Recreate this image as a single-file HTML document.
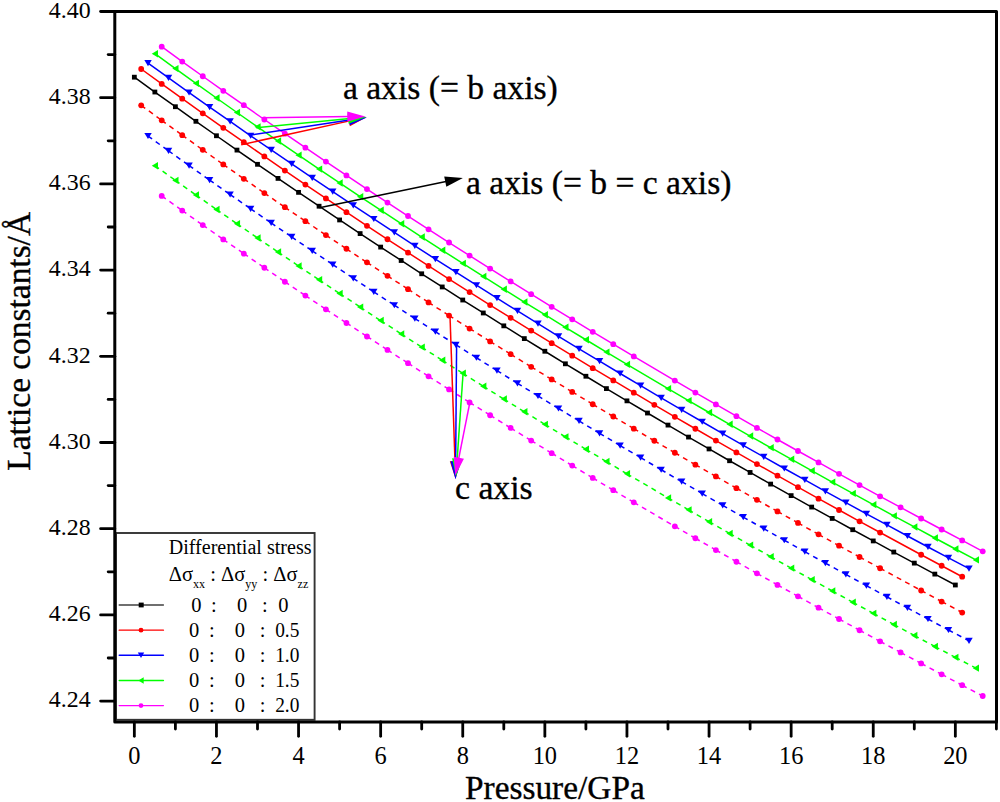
<!DOCTYPE html>
<html><head><meta charset="utf-8"><style>
html,body{margin:0;padding:0;background:#fff;}
svg{display:block;}
text{font-family:"Liberation Serif",serif;fill:#000;}
.big{stroke:#000;stroke-width:0.35px;}
</style></head><body>
<svg width="1000" height="802" viewBox="0 0 1000 802">
<path d="M134.35,77.18 L154.88,92.02 L175.40,106.72 L195.92,121.31 L216.45,135.76 L236.97,150.09 L257.50,164.31 L278.02,178.40 L298.55,192.37 L319.07,206.22 L339.60,219.96 L360.12,233.58 L380.65,247.09 L401.17,260.49 L421.70,273.77 L442.23,286.95 L462.75,300.02 L483.27,312.98 L503.80,325.84 L524.32,338.59 L544.85,351.25 L565.38,363.80 L585.90,376.25 L606.42,388.60 L626.95,400.86 L647.48,413.02 L668.00,425.09 L688.52,437.07 L709.05,448.95 L729.57,460.75 L750.10,472.46 L770.62,484.08 L791.15,495.61 L811.67,507.07 L832.20,518.44 L852.73,529.72 L873.25,540.93 L893.77,552.06 L914.30,563.12 L934.82,574.10 L955.35,585.00" fill="none" stroke="#000" stroke-width="1.5" stroke-linejoin="round"/>
<g><rect x="131.95" y="74.78" width="4.8" height="4.8" fill="#000"/><rect x="152.47" y="89.62" width="4.8" height="4.8" fill="#000"/><rect x="173.00" y="104.32" width="4.8" height="4.8" fill="#000"/><rect x="193.52" y="118.91" width="4.8" height="4.8" fill="#000"/><rect x="214.05" y="133.36" width="4.8" height="4.8" fill="#000"/><rect x="234.57" y="147.69" width="4.8" height="4.8" fill="#000"/><rect x="255.10" y="161.91" width="4.8" height="4.8" fill="#000"/><rect x="275.62" y="176.00" width="4.8" height="4.8" fill="#000"/><rect x="296.15" y="189.97" width="4.8" height="4.8" fill="#000"/><rect x="316.68" y="203.82" width="4.8" height="4.8" fill="#000"/><rect x="337.20" y="217.56" width="4.8" height="4.8" fill="#000"/><rect x="357.73" y="231.18" width="4.8" height="4.8" fill="#000"/><rect x="378.25" y="244.69" width="4.8" height="4.8" fill="#000"/><rect x="398.77" y="258.09" width="4.8" height="4.8" fill="#000"/><rect x="419.30" y="271.37" width="4.8" height="4.8" fill="#000"/><rect x="439.83" y="284.55" width="4.8" height="4.8" fill="#000"/><rect x="460.35" y="297.62" width="4.8" height="4.8" fill="#000"/><rect x="480.88" y="310.58" width="4.8" height="4.8" fill="#000"/><rect x="501.40" y="323.44" width="4.8" height="4.8" fill="#000"/><rect x="521.92" y="336.19" width="4.8" height="4.8" fill="#000"/><rect x="542.45" y="348.85" width="4.8" height="4.8" fill="#000"/><rect x="562.98" y="361.40" width="4.8" height="4.8" fill="#000"/><rect x="583.50" y="373.85" width="4.8" height="4.8" fill="#000"/><rect x="604.02" y="386.20" width="4.8" height="4.8" fill="#000"/><rect x="624.55" y="398.46" width="4.8" height="4.8" fill="#000"/><rect x="645.08" y="410.62" width="4.8" height="4.8" fill="#000"/><rect x="665.60" y="422.69" width="4.8" height="4.8" fill="#000"/><rect x="686.12" y="434.67" width="4.8" height="4.8" fill="#000"/><rect x="706.65" y="446.55" width="4.8" height="4.8" fill="#000"/><rect x="727.17" y="458.35" width="4.8" height="4.8" fill="#000"/><rect x="747.70" y="470.06" width="4.8" height="4.8" fill="#000"/><rect x="768.23" y="481.68" width="4.8" height="4.8" fill="#000"/><rect x="788.75" y="493.21" width="4.8" height="4.8" fill="#000"/><rect x="809.27" y="504.67" width="4.8" height="4.8" fill="#000"/><rect x="829.80" y="516.04" width="4.8" height="4.8" fill="#000"/><rect x="850.33" y="527.32" width="4.8" height="4.8" fill="#000"/><rect x="870.85" y="538.53" width="4.8" height="4.8" fill="#000"/><rect x="891.38" y="549.66" width="4.8" height="4.8" fill="#000"/><rect x="911.90" y="560.72" width="4.8" height="4.8" fill="#000"/><rect x="932.42" y="571.70" width="4.8" height="4.8" fill="#000"/><rect x="952.95" y="582.60" width="4.8" height="4.8" fill="#000"/></g>
<path d="M141.19,69.01 L161.72,83.93 L182.24,98.70 L202.77,113.34 L223.29,127.85 L243.82,142.22 L264.34,156.46 L284.87,170.57 L305.39,184.56 L325.92,198.42 L346.44,212.16 L366.97,225.78 L387.49,239.27 L408.02,252.66 L428.54,265.92 L449.07,279.07 L469.59,292.11 L490.12,305.05 L510.64,317.87 L531.17,330.59 L551.69,343.20 L572.22,355.72 L592.74,368.13 L613.27,380.44 L633.79,392.66 L654.32,404.79 L674.84,416.82 L695.37,428.77 L715.89,440.62 L736.42,452.39 L756.94,464.08 L777.47,475.68 L797.99,487.20 L818.52,498.65 L839.04,510.01 L859.57,521.31 L880.09,532.53 L921.14,554.75 L941.67,565.77 L962.19,576.72" fill="none" stroke="#ff0000" stroke-width="1.5" stroke-linejoin="round"/>
<g><circle cx="141.19" cy="69.01" r="2.9" fill="#ff0000"/><circle cx="161.72" cy="83.93" r="2.9" fill="#ff0000"/><circle cx="182.24" cy="98.70" r="2.9" fill="#ff0000"/><circle cx="202.77" cy="113.34" r="2.9" fill="#ff0000"/><circle cx="223.29" cy="127.85" r="2.9" fill="#ff0000"/><circle cx="243.82" cy="142.22" r="2.9" fill="#ff0000"/><circle cx="264.34" cy="156.46" r="2.9" fill="#ff0000"/><circle cx="284.87" cy="170.57" r="2.9" fill="#ff0000"/><circle cx="305.39" cy="184.56" r="2.9" fill="#ff0000"/><circle cx="325.92" cy="198.42" r="2.9" fill="#ff0000"/><circle cx="346.44" cy="212.16" r="2.9" fill="#ff0000"/><circle cx="366.97" cy="225.78" r="2.9" fill="#ff0000"/><circle cx="387.49" cy="239.27" r="2.9" fill="#ff0000"/><circle cx="408.02" cy="252.66" r="2.9" fill="#ff0000"/><circle cx="428.54" cy="265.92" r="2.9" fill="#ff0000"/><circle cx="449.07" cy="279.07" r="2.9" fill="#ff0000"/><circle cx="469.59" cy="292.11" r="2.9" fill="#ff0000"/><circle cx="490.12" cy="305.05" r="2.9" fill="#ff0000"/><circle cx="510.64" cy="317.87" r="2.9" fill="#ff0000"/><circle cx="531.17" cy="330.59" r="2.9" fill="#ff0000"/><circle cx="551.69" cy="343.20" r="2.9" fill="#ff0000"/><circle cx="572.22" cy="355.72" r="2.9" fill="#ff0000"/><circle cx="592.74" cy="368.13" r="2.9" fill="#ff0000"/><circle cx="613.27" cy="380.44" r="2.9" fill="#ff0000"/><circle cx="633.79" cy="392.66" r="2.9" fill="#ff0000"/><circle cx="654.32" cy="404.79" r="2.9" fill="#ff0000"/><circle cx="674.84" cy="416.82" r="2.9" fill="#ff0000"/><circle cx="695.37" cy="428.77" r="2.9" fill="#ff0000"/><circle cx="715.89" cy="440.62" r="2.9" fill="#ff0000"/><circle cx="736.42" cy="452.39" r="2.9" fill="#ff0000"/><circle cx="756.94" cy="464.08" r="2.9" fill="#ff0000"/><circle cx="777.47" cy="475.68" r="2.9" fill="#ff0000"/><circle cx="797.99" cy="487.20" r="2.9" fill="#ff0000"/><circle cx="818.52" cy="498.65" r="2.9" fill="#ff0000"/><circle cx="839.04" cy="510.01" r="2.9" fill="#ff0000"/><circle cx="859.57" cy="521.31" r="2.9" fill="#ff0000"/><circle cx="880.09" cy="532.53" r="2.9" fill="#ff0000"/><circle cx="921.14" cy="554.75" r="2.9" fill="#ff0000"/><circle cx="941.67" cy="565.77" r="2.9" fill="#ff0000"/><circle cx="962.19" cy="576.72" r="2.9" fill="#ff0000"/></g>
<path d="M148.03,63.08 L168.56,77.86 L189.08,92.52 L209.61,107.06 L230.13,121.47 L250.66,135.76 L271.18,149.92 L291.71,163.97 L312.23,177.90 L332.76,191.71 L353.28,205.41 L373.81,218.99 L394.33,232.46 L414.86,245.82 L435.38,259.06 L455.91,272.20 L476.43,285.23 L496.96,298.15 L517.48,310.96 L538.01,323.67 L558.53,336.28 L579.06,348.78 L599.58,361.19 L620.11,373.49 L640.63,385.70 L661.16,397.81 L681.68,409.82 L702.21,421.74 L722.73,433.56 L743.26,445.30 L763.78,456.94 L784.31,468.49 L804.83,479.96 L825.36,491.34 L845.88,502.63 L866.41,513.84 L886.93,524.96 L907.46,536.01 L927.98,546.97 L948.51,557.85 L969.03,568.66" fill="none" stroke="#0000ff" stroke-width="1.5" stroke-linejoin="round"/>
<g><path d="M144.33,59.98H151.73L148.03,66.18Z" fill="#0000ff"/><path d="M164.86,74.76H172.26L168.56,80.96Z" fill="#0000ff"/><path d="M185.38,89.42H192.78L189.08,95.62Z" fill="#0000ff"/><path d="M205.91,103.96H213.31L209.61,110.16Z" fill="#0000ff"/><path d="M226.43,118.37H233.83L230.13,124.57Z" fill="#0000ff"/><path d="M246.96,132.66H254.36L250.66,138.86Z" fill="#0000ff"/><path d="M267.48,146.82H274.88L271.18,153.02Z" fill="#0000ff"/><path d="M288.01,160.87H295.41L291.71,167.07Z" fill="#0000ff"/><path d="M308.53,174.80H315.93L312.23,181.00Z" fill="#0000ff"/><path d="M329.06,188.61H336.46L332.76,194.81Z" fill="#0000ff"/><path d="M349.58,202.31H356.98L353.28,208.51Z" fill="#0000ff"/><path d="M370.11,215.89H377.51L373.81,222.09Z" fill="#0000ff"/><path d="M390.63,229.36H398.03L394.33,235.56Z" fill="#0000ff"/><path d="M411.16,242.72H418.56L414.86,248.92Z" fill="#0000ff"/><path d="M431.68,255.96H439.08L435.38,262.16Z" fill="#0000ff"/><path d="M452.21,269.10H459.61L455.91,275.30Z" fill="#0000ff"/><path d="M472.73,282.13H480.13L476.43,288.33Z" fill="#0000ff"/><path d="M493.26,295.05H500.66L496.96,301.25Z" fill="#0000ff"/><path d="M513.78,307.86H521.18L517.48,314.06Z" fill="#0000ff"/><path d="M534.31,320.57H541.71L538.01,326.77Z" fill="#0000ff"/><path d="M554.83,333.18H562.23L558.53,339.38Z" fill="#0000ff"/><path d="M575.36,345.68H582.76L579.06,351.88Z" fill="#0000ff"/><path d="M595.88,358.09H603.28L599.58,364.29Z" fill="#0000ff"/><path d="M616.41,370.39H623.81L620.11,376.59Z" fill="#0000ff"/><path d="M636.93,382.60H644.33L640.63,388.80Z" fill="#0000ff"/><path d="M657.46,394.71H664.86L661.16,400.91Z" fill="#0000ff"/><path d="M677.98,406.72H685.38L681.68,412.92Z" fill="#0000ff"/><path d="M698.51,418.64H705.91L702.21,424.84Z" fill="#0000ff"/><path d="M719.03,430.46H726.43L722.73,436.66Z" fill="#0000ff"/><path d="M739.56,442.20H746.96L743.26,448.40Z" fill="#0000ff"/><path d="M760.08,453.84H767.48L763.78,460.04Z" fill="#0000ff"/><path d="M780.61,465.39H788.01L784.31,471.59Z" fill="#0000ff"/><path d="M801.13,476.86H808.53L804.83,483.06Z" fill="#0000ff"/><path d="M821.66,488.24H829.06L825.36,494.44Z" fill="#0000ff"/><path d="M842.18,499.53H849.58L845.88,505.73Z" fill="#0000ff"/><path d="M862.71,510.74H870.11L866.41,516.94Z" fill="#0000ff"/><path d="M883.23,521.86H890.63L886.93,528.06Z" fill="#0000ff"/><path d="M903.76,532.91H911.16L907.46,539.11Z" fill="#0000ff"/><path d="M924.28,543.87H931.68L927.98,550.07Z" fill="#0000ff"/><path d="M944.81,554.75H952.21L948.51,560.95Z" fill="#0000ff"/><path d="M965.33,565.56H972.73L969.03,571.76Z" fill="#0000ff"/></g>
<path d="M154.88,53.69 L175.40,68.60 L195.92,83.37 L216.45,98.00 L236.97,112.49 L257.50,126.85 L278.02,141.07 L298.55,155.16 L319.07,169.12 L339.60,182.95 L360.12,196.66 L380.65,210.24 L401.17,223.71 L421.70,237.05 L442.23,250.28 L462.75,263.39 L483.27,276.38 L503.80,289.27 L524.32,302.05 L544.85,314.72 L565.38,327.29 L585.90,339.75 L606.42,352.12 L626.95,364.38 L668.00,388.63 L688.52,400.61 L709.05,412.50 L729.57,424.31 L750.10,436.03 L770.62,447.67 L791.15,459.22 L811.67,470.70 L832.20,482.10 L852.73,493.42 L873.25,504.67 L893.77,515.85 L914.30,526.96 L934.82,538.01 L955.35,548.99 L975.88,559.90" fill="none" stroke="#00ff00" stroke-width="1.5" stroke-linejoin="round"/>
<g><path d="M157.97,49.99V57.39L151.78,53.69Z" fill="#00ff00"/><path d="M178.50,64.90V72.30L172.30,68.60Z" fill="#00ff00"/><path d="M199.02,79.67V87.07L192.82,83.37Z" fill="#00ff00"/><path d="M219.55,94.30V101.70L213.35,98.00Z" fill="#00ff00"/><path d="M240.07,108.79V116.19L233.88,112.49Z" fill="#00ff00"/><path d="M260.60,123.15V130.55L254.40,126.85Z" fill="#00ff00"/><path d="M281.12,137.37V144.77L274.92,141.07Z" fill="#00ff00"/><path d="M301.65,151.46V158.86L295.45,155.16Z" fill="#00ff00"/><path d="M322.18,165.42V172.82L315.97,169.12Z" fill="#00ff00"/><path d="M342.70,179.25V186.65L336.50,182.95Z" fill="#00ff00"/><path d="M363.23,192.96V200.36L357.02,196.66Z" fill="#00ff00"/><path d="M383.75,206.54V213.94L377.55,210.24Z" fill="#00ff00"/><path d="M404.27,220.01V227.41L398.07,223.71Z" fill="#00ff00"/><path d="M424.80,233.35V240.75L418.60,237.05Z" fill="#00ff00"/><path d="M445.33,246.58V253.98L439.12,250.28Z" fill="#00ff00"/><path d="M465.85,259.69V267.09L459.65,263.39Z" fill="#00ff00"/><path d="M486.38,272.68V280.08L480.17,276.38Z" fill="#00ff00"/><path d="M506.90,285.57V292.97L500.70,289.27Z" fill="#00ff00"/><path d="M527.42,298.35V305.75L521.22,302.05Z" fill="#00ff00"/><path d="M547.95,311.02V318.42L541.75,314.72Z" fill="#00ff00"/><path d="M568.48,323.59V330.99L562.27,327.29Z" fill="#00ff00"/><path d="M589.00,336.05V343.45L582.80,339.75Z" fill="#00ff00"/><path d="M609.52,348.42V355.82L603.32,352.12Z" fill="#00ff00"/><path d="M630.05,360.68V368.08L623.85,364.38Z" fill="#00ff00"/><path d="M671.10,384.93V392.33L664.90,388.63Z" fill="#00ff00"/><path d="M691.62,396.91V404.31L685.42,400.61Z" fill="#00ff00"/><path d="M712.15,408.80V416.20L705.95,412.50Z" fill="#00ff00"/><path d="M732.67,420.61V428.01L726.47,424.31Z" fill="#00ff00"/><path d="M753.20,432.33V439.73L747.00,436.03Z" fill="#00ff00"/><path d="M773.73,443.97V451.37L767.52,447.67Z" fill="#00ff00"/><path d="M794.25,455.52V462.92L788.05,459.22Z" fill="#00ff00"/><path d="M814.77,467.00V474.40L808.57,470.70Z" fill="#00ff00"/><path d="M835.30,478.40V485.80L829.10,482.10Z" fill="#00ff00"/><path d="M855.83,489.72V497.12L849.62,493.42Z" fill="#00ff00"/><path d="M876.35,500.97V508.37L870.15,504.67Z" fill="#00ff00"/><path d="M896.88,512.15V519.55L890.67,515.85Z" fill="#00ff00"/><path d="M917.40,523.26V530.66L911.20,526.96Z" fill="#00ff00"/><path d="M937.92,534.31V541.71L931.72,538.01Z" fill="#00ff00"/><path d="M958.45,545.29V552.69L952.25,548.99Z" fill="#00ff00"/><path d="M978.98,556.20V563.60L972.77,559.90Z" fill="#00ff00"/></g>
<path d="M161.72,46.72 L182.24,61.55 L202.77,76.24 L223.29,90.79 L243.82,105.21 L264.34,119.50 L284.87,133.66 L305.39,147.70 L325.92,161.61 L346.44,175.39 L366.97,189.05 L387.49,202.59 L408.02,216.01 L428.54,229.32 L449.07,242.51 L469.59,255.59 L490.12,268.56 L510.64,281.42 L531.17,294.17 L551.69,306.82 L572.22,319.36 L592.74,331.80 L613.27,344.14 L633.79,356.39 L674.84,380.58 L695.37,392.54 L715.89,404.41 L736.42,416.19 L756.94,427.89 L777.47,439.49 L797.99,451.02 L818.52,462.46 L839.04,473.83 L859.57,485.11 L880.09,496.32 L900.62,507.46 L921.14,518.52 L941.67,529.52 L962.19,540.44 L982.72,551.30" fill="none" stroke="#ff00ff" stroke-width="1.5" stroke-linejoin="round"/>
<g><circle cx="161.72" cy="46.72" r="2.9" fill="#ff00ff"/><circle cx="182.24" cy="61.55" r="2.9" fill="#ff00ff"/><circle cx="202.77" cy="76.24" r="2.9" fill="#ff00ff"/><circle cx="223.29" cy="90.79" r="2.9" fill="#ff00ff"/><circle cx="243.82" cy="105.21" r="2.9" fill="#ff00ff"/><circle cx="264.34" cy="119.50" r="2.9" fill="#ff00ff"/><circle cx="284.87" cy="133.66" r="2.9" fill="#ff00ff"/><circle cx="305.39" cy="147.70" r="2.9" fill="#ff00ff"/><circle cx="325.92" cy="161.61" r="2.9" fill="#ff00ff"/><circle cx="346.44" cy="175.39" r="2.9" fill="#ff00ff"/><circle cx="366.97" cy="189.05" r="2.9" fill="#ff00ff"/><circle cx="387.49" cy="202.59" r="2.9" fill="#ff00ff"/><circle cx="408.02" cy="216.01" r="2.9" fill="#ff00ff"/><circle cx="428.54" cy="229.32" r="2.9" fill="#ff00ff"/><circle cx="449.07" cy="242.51" r="2.9" fill="#ff00ff"/><circle cx="469.59" cy="255.59" r="2.9" fill="#ff00ff"/><circle cx="490.12" cy="268.56" r="2.9" fill="#ff00ff"/><circle cx="510.64" cy="281.42" r="2.9" fill="#ff00ff"/><circle cx="531.17" cy="294.17" r="2.9" fill="#ff00ff"/><circle cx="551.69" cy="306.82" r="2.9" fill="#ff00ff"/><circle cx="572.22" cy="319.36" r="2.9" fill="#ff00ff"/><circle cx="592.74" cy="331.80" r="2.9" fill="#ff00ff"/><circle cx="613.27" cy="344.14" r="2.9" fill="#ff00ff"/><circle cx="633.79" cy="356.39" r="2.9" fill="#ff00ff"/><circle cx="674.84" cy="380.58" r="2.9" fill="#ff00ff"/><circle cx="695.37" cy="392.54" r="2.9" fill="#ff00ff"/><circle cx="715.89" cy="404.41" r="2.9" fill="#ff00ff"/><circle cx="736.42" cy="416.19" r="2.9" fill="#ff00ff"/><circle cx="756.94" cy="427.89" r="2.9" fill="#ff00ff"/><circle cx="777.47" cy="439.49" r="2.9" fill="#ff00ff"/><circle cx="797.99" cy="451.02" r="2.9" fill="#ff00ff"/><circle cx="818.52" cy="462.46" r="2.9" fill="#ff00ff"/><circle cx="839.04" cy="473.83" r="2.9" fill="#ff00ff"/><circle cx="859.57" cy="485.11" r="2.9" fill="#ff00ff"/><circle cx="880.09" cy="496.32" r="2.9" fill="#ff00ff"/><circle cx="900.62" cy="507.46" r="2.9" fill="#ff00ff"/><circle cx="921.14" cy="518.52" r="2.9" fill="#ff00ff"/><circle cx="941.67" cy="529.52" r="2.9" fill="#ff00ff"/><circle cx="962.19" cy="540.44" r="2.9" fill="#ff00ff"/><circle cx="982.72" cy="551.30" r="2.9" fill="#ff00ff"/></g>
<g stroke="#ff0000" stroke-width="1.5" stroke-dasharray="5 4.5"><line x1="141.19" y1="105.36" x2="161.72" y2="120.34"/><line x1="161.72" y1="120.34" x2="182.24" y2="135.18"/><line x1="182.24" y1="135.18" x2="202.77" y2="149.87"/><line x1="202.77" y1="149.87" x2="223.29" y2="164.41"/><line x1="223.29" y1="164.41" x2="243.82" y2="178.81"/><line x1="243.82" y1="178.81" x2="264.34" y2="193.07"/><line x1="264.34" y1="193.07" x2="284.87" y2="207.20"/><line x1="284.87" y1="207.20" x2="305.39" y2="221.19"/><line x1="305.39" y1="221.19" x2="325.92" y2="235.04"/><line x1="325.92" y1="235.04" x2="346.44" y2="248.77"/><line x1="346.44" y1="248.77" x2="366.97" y2="262.37"/><line x1="366.97" y1="262.37" x2="387.49" y2="275.84"/><line x1="387.49" y1="275.84" x2="408.02" y2="289.19"/><line x1="408.02" y1="289.19" x2="428.54" y2="302.42"/><line x1="428.54" y1="302.42" x2="449.07" y2="315.54"/><line x1="449.07" y1="315.54" x2="469.59" y2="328.54"/><line x1="469.59" y1="328.54" x2="490.12" y2="341.42"/><line x1="490.12" y1="341.42" x2="510.64" y2="354.20"/><line x1="510.64" y1="354.20" x2="531.17" y2="366.87"/><line x1="531.17" y1="366.87" x2="551.69" y2="379.43"/><line x1="551.69" y1="379.43" x2="572.22" y2="391.90"/><line x1="572.22" y1="391.90" x2="592.74" y2="404.26"/><line x1="592.74" y1="404.26" x2="613.27" y2="416.52"/><line x1="613.27" y1="416.52" x2="633.79" y2="428.69"/><line x1="633.79" y1="428.69" x2="654.32" y2="440.77"/><line x1="654.32" y1="440.77" x2="674.84" y2="452.76"/><line x1="674.84" y1="452.76" x2="695.37" y2="464.66"/><line x1="695.37" y1="464.66" x2="715.89" y2="476.47"/><line x1="715.89" y1="476.47" x2="736.42" y2="488.20"/><line x1="736.42" y1="488.20" x2="756.94" y2="499.85"/><line x1="756.94" y1="499.85" x2="777.47" y2="511.43"/><line x1="777.47" y1="511.43" x2="797.99" y2="522.93"/><line x1="797.99" y1="522.93" x2="818.52" y2="534.36"/><line x1="818.52" y1="534.36" x2="839.04" y2="545.72"/><line x1="839.04" y1="545.72" x2="859.57" y2="557.01"/><line x1="859.57" y1="557.01" x2="880.09" y2="568.23"/><line x1="880.09" y1="568.23" x2="921.14" y2="590.50"/><line x1="921.14" y1="590.50" x2="941.67" y2="601.54"/><line x1="941.67" y1="601.54" x2="962.19" y2="612.53"/></g>
<g><circle cx="141.19" cy="105.36" r="2.9" fill="#ff0000"/><circle cx="161.72" cy="120.34" r="2.9" fill="#ff0000"/><circle cx="182.24" cy="135.18" r="2.9" fill="#ff0000"/><circle cx="202.77" cy="149.87" r="2.9" fill="#ff0000"/><circle cx="223.29" cy="164.41" r="2.9" fill="#ff0000"/><circle cx="243.82" cy="178.81" r="2.9" fill="#ff0000"/><circle cx="264.34" cy="193.07" r="2.9" fill="#ff0000"/><circle cx="284.87" cy="207.20" r="2.9" fill="#ff0000"/><circle cx="305.39" cy="221.19" r="2.9" fill="#ff0000"/><circle cx="325.92" cy="235.04" r="2.9" fill="#ff0000"/><circle cx="346.44" cy="248.77" r="2.9" fill="#ff0000"/><circle cx="366.97" cy="262.37" r="2.9" fill="#ff0000"/><circle cx="387.49" cy="275.84" r="2.9" fill="#ff0000"/><circle cx="408.02" cy="289.19" r="2.9" fill="#ff0000"/><circle cx="428.54" cy="302.42" r="2.9" fill="#ff0000"/><circle cx="449.07" cy="315.54" r="2.9" fill="#ff0000"/><circle cx="469.59" cy="328.54" r="2.9" fill="#ff0000"/><circle cx="490.12" cy="341.42" r="2.9" fill="#ff0000"/><circle cx="510.64" cy="354.20" r="2.9" fill="#ff0000"/><circle cx="531.17" cy="366.87" r="2.9" fill="#ff0000"/><circle cx="551.69" cy="379.43" r="2.9" fill="#ff0000"/><circle cx="572.22" cy="391.90" r="2.9" fill="#ff0000"/><circle cx="592.74" cy="404.26" r="2.9" fill="#ff0000"/><circle cx="613.27" cy="416.52" r="2.9" fill="#ff0000"/><circle cx="633.79" cy="428.69" r="2.9" fill="#ff0000"/><circle cx="654.32" cy="440.77" r="2.9" fill="#ff0000"/><circle cx="674.84" cy="452.76" r="2.9" fill="#ff0000"/><circle cx="695.37" cy="464.66" r="2.9" fill="#ff0000"/><circle cx="715.89" cy="476.47" r="2.9" fill="#ff0000"/><circle cx="736.42" cy="488.20" r="2.9" fill="#ff0000"/><circle cx="756.94" cy="499.85" r="2.9" fill="#ff0000"/><circle cx="777.47" cy="511.43" r="2.9" fill="#ff0000"/><circle cx="797.99" cy="522.93" r="2.9" fill="#ff0000"/><circle cx="818.52" cy="534.36" r="2.9" fill="#ff0000"/><circle cx="839.04" cy="545.72" r="2.9" fill="#ff0000"/><circle cx="859.57" cy="557.01" r="2.9" fill="#ff0000"/><circle cx="880.09" cy="568.23" r="2.9" fill="#ff0000"/><circle cx="921.14" cy="590.50" r="2.9" fill="#ff0000"/><circle cx="941.67" cy="601.54" r="2.9" fill="#ff0000"/><circle cx="962.19" cy="612.53" r="2.9" fill="#ff0000"/></g>
<g stroke="#0000ff" stroke-width="1.5" stroke-dasharray="5 4.5"><line x1="148.03" y1="136.02" x2="168.56" y2="150.85"/><line x1="168.56" y1="150.85" x2="189.08" y2="165.54"/><line x1="189.08" y1="165.54" x2="209.61" y2="180.09"/><line x1="209.61" y1="180.09" x2="230.13" y2="194.51"/><line x1="230.13" y1="194.51" x2="250.66" y2="208.79"/><line x1="250.66" y1="208.79" x2="271.18" y2="222.95"/><line x1="271.18" y1="222.95" x2="291.71" y2="236.97"/><line x1="291.71" y1="236.97" x2="312.23" y2="250.87"/><line x1="312.23" y1="250.87" x2="332.76" y2="264.65"/><line x1="332.76" y1="264.65" x2="353.28" y2="278.30"/><line x1="353.28" y1="278.30" x2="373.81" y2="291.83"/><line x1="373.81" y1="291.83" x2="394.33" y2="305.24"/><line x1="394.33" y1="305.24" x2="414.86" y2="318.54"/><line x1="414.86" y1="318.54" x2="435.38" y2="331.72"/><line x1="435.38" y1="331.72" x2="455.91" y2="344.79"/><line x1="455.91" y1="344.79" x2="476.43" y2="357.74"/><line x1="476.43" y1="357.74" x2="496.96" y2="370.59"/><line x1="496.96" y1="370.59" x2="517.48" y2="383.34"/><line x1="517.48" y1="383.34" x2="538.01" y2="395.98"/><line x1="538.01" y1="395.98" x2="558.53" y2="408.51"/><line x1="558.53" y1="408.51" x2="579.06" y2="420.95"/><line x1="579.06" y1="420.95" x2="599.58" y2="433.29"/><line x1="599.58" y1="433.29" x2="620.11" y2="445.53"/><line x1="620.11" y1="445.53" x2="640.63" y2="457.68"/><line x1="640.63" y1="457.68" x2="661.16" y2="469.73"/><line x1="661.16" y1="469.73" x2="681.68" y2="481.70"/><line x1="681.68" y1="481.70" x2="702.21" y2="493.58"/><line x1="702.21" y1="493.58" x2="722.73" y2="505.37"/><line x1="722.73" y1="505.37" x2="743.26" y2="517.08"/><line x1="743.26" y1="517.08" x2="763.78" y2="528.70"/><line x1="763.78" y1="528.70" x2="784.31" y2="540.25"/><line x1="784.31" y1="540.25" x2="804.83" y2="551.71"/><line x1="804.83" y1="551.71" x2="825.36" y2="563.11"/><line x1="825.36" y1="563.11" x2="845.88" y2="574.42"/><line x1="845.88" y1="574.42" x2="866.41" y2="585.67"/><line x1="866.41" y1="585.67" x2="886.93" y2="596.85"/><line x1="886.93" y1="596.85" x2="907.46" y2="607.95"/><line x1="907.46" y1="607.95" x2="927.98" y2="619.00"/><line x1="927.98" y1="619.00" x2="948.51" y2="629.98"/><line x1="948.51" y1="629.98" x2="969.03" y2="640.89"/></g>
<g><path d="M144.33,132.92H151.73L148.03,139.12Z" fill="#0000ff"/><path d="M164.86,147.75H172.26L168.56,153.95Z" fill="#0000ff"/><path d="M185.38,162.44H192.78L189.08,168.64Z" fill="#0000ff"/><path d="M205.91,176.99H213.31L209.61,183.19Z" fill="#0000ff"/><path d="M226.43,191.41H233.83L230.13,197.61Z" fill="#0000ff"/><path d="M246.96,205.69H254.36L250.66,211.89Z" fill="#0000ff"/><path d="M267.48,219.85H274.88L271.18,226.05Z" fill="#0000ff"/><path d="M288.01,233.87H295.41L291.71,240.07Z" fill="#0000ff"/><path d="M308.53,247.77H315.93L312.23,253.97Z" fill="#0000ff"/><path d="M329.06,261.55H336.46L332.76,267.75Z" fill="#0000ff"/><path d="M349.58,275.20H356.98L353.28,281.40Z" fill="#0000ff"/><path d="M370.11,288.73H377.51L373.81,294.93Z" fill="#0000ff"/><path d="M390.63,302.14H398.03L394.33,308.34Z" fill="#0000ff"/><path d="M411.16,315.44H418.56L414.86,321.64Z" fill="#0000ff"/><path d="M431.68,328.62H439.08L435.38,334.82Z" fill="#0000ff"/><path d="M452.21,341.69H459.61L455.91,347.89Z" fill="#0000ff"/><path d="M472.73,354.64H480.13L476.43,360.84Z" fill="#0000ff"/><path d="M493.26,367.49H500.66L496.96,373.69Z" fill="#0000ff"/><path d="M513.78,380.24H521.18L517.48,386.44Z" fill="#0000ff"/><path d="M534.31,392.88H541.71L538.01,399.08Z" fill="#0000ff"/><path d="M554.83,405.41H562.23L558.53,411.61Z" fill="#0000ff"/><path d="M575.36,417.85H582.76L579.06,424.05Z" fill="#0000ff"/><path d="M595.88,430.19H603.28L599.58,436.39Z" fill="#0000ff"/><path d="M616.41,442.43H623.81L620.11,448.63Z" fill="#0000ff"/><path d="M636.93,454.58H644.33L640.63,460.78Z" fill="#0000ff"/><path d="M657.46,466.63H664.86L661.16,472.83Z" fill="#0000ff"/><path d="M677.98,478.60H685.38L681.68,484.80Z" fill="#0000ff"/><path d="M698.51,490.48H705.91L702.21,496.68Z" fill="#0000ff"/><path d="M719.03,502.27H726.43L722.73,508.47Z" fill="#0000ff"/><path d="M739.56,513.98H746.96L743.26,520.18Z" fill="#0000ff"/><path d="M760.08,525.60H767.48L763.78,531.80Z" fill="#0000ff"/><path d="M780.61,537.15H788.01L784.31,543.35Z" fill="#0000ff"/><path d="M801.13,548.61H808.53L804.83,554.81Z" fill="#0000ff"/><path d="M821.66,560.01H829.06L825.36,566.21Z" fill="#0000ff"/><path d="M842.18,571.32H849.58L845.88,577.52Z" fill="#0000ff"/><path d="M862.71,582.57H870.11L866.41,588.77Z" fill="#0000ff"/><path d="M883.23,593.75H890.63L886.93,599.95Z" fill="#0000ff"/><path d="M903.76,604.85H911.16L907.46,611.05Z" fill="#0000ff"/><path d="M924.28,615.90H931.68L927.98,622.10Z" fill="#0000ff"/><path d="M944.81,626.88H952.21L948.51,633.08Z" fill="#0000ff"/><path d="M965.33,637.79H972.73L969.03,643.99Z" fill="#0000ff"/></g>
<g stroke="#00ff00" stroke-width="1.5" stroke-dasharray="5 4.5"><line x1="154.88" y1="165.69" x2="175.40" y2="180.40"/><line x1="175.40" y1="180.40" x2="195.92" y2="194.98"/><line x1="195.92" y1="194.98" x2="216.45" y2="209.43"/><line x1="216.45" y1="209.43" x2="236.97" y2="223.75"/><line x1="236.97" y1="223.75" x2="257.50" y2="237.94"/><line x1="257.50" y1="237.94" x2="278.02" y2="252.01"/><line x1="278.02" y1="252.01" x2="298.55" y2="265.96"/><line x1="298.55" y1="265.96" x2="319.07" y2="279.79"/><line x1="319.07" y1="279.79" x2="339.60" y2="293.49"/><line x1="339.60" y1="293.49" x2="360.12" y2="307.08"/><line x1="360.12" y1="307.08" x2="380.65" y2="320.56"/><line x1="380.65" y1="320.56" x2="401.17" y2="333.92"/><line x1="401.17" y1="333.92" x2="421.70" y2="347.16"/><line x1="421.70" y1="347.16" x2="442.23" y2="360.30"/><line x1="442.23" y1="360.30" x2="462.75" y2="373.32"/><line x1="462.75" y1="373.32" x2="483.27" y2="386.24"/><line x1="483.27" y1="386.24" x2="503.80" y2="399.05"/><line x1="503.80" y1="399.05" x2="524.32" y2="411.76"/><line x1="524.32" y1="411.76" x2="544.85" y2="424.36"/><line x1="544.85" y1="424.36" x2="565.38" y2="436.86"/><line x1="565.38" y1="436.86" x2="585.90" y2="449.27"/><line x1="585.90" y1="449.27" x2="606.42" y2="461.57"/><line x1="606.42" y1="461.57" x2="626.95" y2="473.78"/><line x1="626.95" y1="473.78" x2="668.00" y2="497.91"/><line x1="668.00" y1="497.91" x2="688.52" y2="509.84"/><line x1="688.52" y1="509.84" x2="709.05" y2="521.68"/><line x1="709.05" y1="521.68" x2="729.57" y2="533.43"/><line x1="729.57" y1="533.43" x2="750.10" y2="545.10"/><line x1="750.10" y1="545.10" x2="770.62" y2="556.67"/><line x1="770.62" y1="556.67" x2="791.15" y2="568.17"/><line x1="791.15" y1="568.17" x2="811.67" y2="579.59"/><line x1="811.67" y1="579.59" x2="832.20" y2="590.92"/><line x1="832.20" y1="590.92" x2="852.73" y2="602.18"/><line x1="852.73" y1="602.18" x2="873.25" y2="613.36"/><line x1="873.25" y1="613.36" x2="893.77" y2="624.46"/><line x1="893.77" y1="624.46" x2="914.30" y2="635.49"/><line x1="914.30" y1="635.49" x2="934.82" y2="646.45"/><line x1="934.82" y1="646.45" x2="955.35" y2="657.34"/><line x1="955.35" y1="657.34" x2="975.88" y2="668.16"/></g>
<g><path d="M157.97,161.99V169.39L151.78,165.69Z" fill="#00ff00"/><path d="M178.50,176.70V184.10L172.30,180.40Z" fill="#00ff00"/><path d="M199.02,191.28V198.68L192.82,194.98Z" fill="#00ff00"/><path d="M219.55,205.73V213.13L213.35,209.43Z" fill="#00ff00"/><path d="M240.07,220.05V227.45L233.88,223.75Z" fill="#00ff00"/><path d="M260.60,234.24V241.64L254.40,237.94Z" fill="#00ff00"/><path d="M281.12,248.31V255.71L274.92,252.01Z" fill="#00ff00"/><path d="M301.65,262.26V269.66L295.45,265.96Z" fill="#00ff00"/><path d="M322.18,276.09V283.49L315.97,279.79Z" fill="#00ff00"/><path d="M342.70,289.79V297.19L336.50,293.49Z" fill="#00ff00"/><path d="M363.23,303.38V310.78L357.02,307.08Z" fill="#00ff00"/><path d="M383.75,316.86V324.26L377.55,320.56Z" fill="#00ff00"/><path d="M404.27,330.22V337.62L398.07,333.92Z" fill="#00ff00"/><path d="M424.80,343.46V350.86L418.60,347.16Z" fill="#00ff00"/><path d="M445.33,356.60V364.00L439.12,360.30Z" fill="#00ff00"/><path d="M465.85,369.62V377.02L459.65,373.32Z" fill="#00ff00"/><path d="M486.38,382.54V389.94L480.17,386.24Z" fill="#00ff00"/><path d="M506.90,395.35V402.75L500.70,399.05Z" fill="#00ff00"/><path d="M527.42,408.06V415.46L521.22,411.76Z" fill="#00ff00"/><path d="M547.95,420.66V428.06L541.75,424.36Z" fill="#00ff00"/><path d="M568.48,433.16V440.56L562.27,436.86Z" fill="#00ff00"/><path d="M589.00,445.57V452.97L582.80,449.27Z" fill="#00ff00"/><path d="M609.52,457.87V465.27L603.32,461.57Z" fill="#00ff00"/><path d="M630.05,470.08V477.48L623.85,473.78Z" fill="#00ff00"/><path d="M671.10,494.21V501.61L664.90,497.91Z" fill="#00ff00"/><path d="M691.62,506.14V513.54L685.42,509.84Z" fill="#00ff00"/><path d="M712.15,517.98V525.38L705.95,521.68Z" fill="#00ff00"/><path d="M732.67,529.73V537.13L726.47,533.43Z" fill="#00ff00"/><path d="M753.20,541.40V548.80L747.00,545.10Z" fill="#00ff00"/><path d="M773.73,552.97V560.37L767.52,556.67Z" fill="#00ff00"/><path d="M794.25,564.47V571.87L788.05,568.17Z" fill="#00ff00"/><path d="M814.77,575.89V583.29L808.57,579.59Z" fill="#00ff00"/><path d="M835.30,587.22V594.62L829.10,590.92Z" fill="#00ff00"/><path d="M855.83,598.48V605.88L849.62,602.18Z" fill="#00ff00"/><path d="M876.35,609.66V617.06L870.15,613.36Z" fill="#00ff00"/><path d="M896.88,620.76V628.16L890.67,624.46Z" fill="#00ff00"/><path d="M917.40,631.79V639.19L911.20,635.49Z" fill="#00ff00"/><path d="M937.92,642.75V650.15L931.72,646.45Z" fill="#00ff00"/><path d="M958.45,653.64V661.04L952.25,657.34Z" fill="#00ff00"/><path d="M978.98,664.46V671.86L972.77,668.16Z" fill="#00ff00"/></g>
<g stroke="#ff00ff" stroke-width="1.5" stroke-dasharray="5 4.5"><line x1="161.72" y1="195.95" x2="182.24" y2="210.57"/><line x1="182.24" y1="210.57" x2="202.77" y2="225.05"/><line x1="202.77" y1="225.05" x2="223.29" y2="239.41"/><line x1="223.29" y1="239.41" x2="243.82" y2="253.65"/><line x1="243.82" y1="253.65" x2="264.34" y2="267.76"/><line x1="264.34" y1="267.76" x2="284.87" y2="281.74"/><line x1="284.87" y1="281.74" x2="305.39" y2="295.61"/><line x1="305.39" y1="295.61" x2="325.92" y2="309.36"/><line x1="325.92" y1="309.36" x2="346.44" y2="322.99"/><line x1="346.44" y1="322.99" x2="366.97" y2="336.50"/><line x1="366.97" y1="336.50" x2="387.49" y2="349.90"/><line x1="387.49" y1="349.90" x2="408.02" y2="363.18"/><line x1="408.02" y1="363.18" x2="428.54" y2="376.36"/><line x1="428.54" y1="376.36" x2="449.07" y2="389.42"/><line x1="449.07" y1="389.42" x2="469.59" y2="402.38"/><line x1="469.59" y1="402.38" x2="490.12" y2="415.23"/><line x1="490.12" y1="415.23" x2="510.64" y2="427.97"/><line x1="510.64" y1="427.97" x2="531.17" y2="440.62"/><line x1="531.17" y1="440.62" x2="551.69" y2="453.16"/><line x1="551.69" y1="453.16" x2="572.22" y2="465.60"/><line x1="572.22" y1="465.60" x2="592.74" y2="477.94"/><line x1="592.74" y1="477.94" x2="613.27" y2="490.19"/><line x1="613.27" y1="490.19" x2="633.79" y2="502.34"/><line x1="633.79" y1="502.34" x2="674.84" y2="526.37"/><line x1="674.84" y1="526.37" x2="695.37" y2="538.25"/><line x1="695.37" y1="538.25" x2="715.89" y2="550.04"/><line x1="715.89" y1="550.04" x2="736.42" y2="561.74"/><line x1="736.42" y1="561.74" x2="756.94" y2="573.36"/><line x1="756.94" y1="573.36" x2="777.47" y2="584.89"/><line x1="777.47" y1="584.89" x2="797.99" y2="596.34"/><line x1="797.99" y1="596.34" x2="818.52" y2="607.71"/><line x1="818.52" y1="607.71" x2="839.04" y2="619.01"/><line x1="839.04" y1="619.01" x2="859.57" y2="630.23"/><line x1="859.57" y1="630.23" x2="880.09" y2="641.37"/><line x1="880.09" y1="641.37" x2="900.62" y2="652.44"/><line x1="900.62" y1="652.44" x2="921.14" y2="663.43"/><line x1="921.14" y1="663.43" x2="941.67" y2="674.36"/><line x1="941.67" y1="674.36" x2="962.19" y2="685.22"/><line x1="962.19" y1="685.22" x2="982.72" y2="696.01"/></g>
<g><circle cx="161.72" cy="195.95" r="2.9" fill="#ff00ff"/><circle cx="182.24" cy="210.57" r="2.9" fill="#ff00ff"/><circle cx="202.77" cy="225.05" r="2.9" fill="#ff00ff"/><circle cx="223.29" cy="239.41" r="2.9" fill="#ff00ff"/><circle cx="243.82" cy="253.65" r="2.9" fill="#ff00ff"/><circle cx="264.34" cy="267.76" r="2.9" fill="#ff00ff"/><circle cx="284.87" cy="281.74" r="2.9" fill="#ff00ff"/><circle cx="305.39" cy="295.61" r="2.9" fill="#ff00ff"/><circle cx="325.92" cy="309.36" r="2.9" fill="#ff00ff"/><circle cx="346.44" cy="322.99" r="2.9" fill="#ff00ff"/><circle cx="366.97" cy="336.50" r="2.9" fill="#ff00ff"/><circle cx="387.49" cy="349.90" r="2.9" fill="#ff00ff"/><circle cx="408.02" cy="363.18" r="2.9" fill="#ff00ff"/><circle cx="428.54" cy="376.36" r="2.9" fill="#ff00ff"/><circle cx="449.07" cy="389.42" r="2.9" fill="#ff00ff"/><circle cx="469.59" cy="402.38" r="2.9" fill="#ff00ff"/><circle cx="490.12" cy="415.23" r="2.9" fill="#ff00ff"/><circle cx="510.64" cy="427.97" r="2.9" fill="#ff00ff"/><circle cx="531.17" cy="440.62" r="2.9" fill="#ff00ff"/><circle cx="551.69" cy="453.16" r="2.9" fill="#ff00ff"/><circle cx="572.22" cy="465.60" r="2.9" fill="#ff00ff"/><circle cx="592.74" cy="477.94" r="2.9" fill="#ff00ff"/><circle cx="613.27" cy="490.19" r="2.9" fill="#ff00ff"/><circle cx="633.79" cy="502.34" r="2.9" fill="#ff00ff"/><circle cx="674.84" cy="526.37" r="2.9" fill="#ff00ff"/><circle cx="695.37" cy="538.25" r="2.9" fill="#ff00ff"/><circle cx="715.89" cy="550.04" r="2.9" fill="#ff00ff"/><circle cx="736.42" cy="561.74" r="2.9" fill="#ff00ff"/><circle cx="756.94" cy="573.36" r="2.9" fill="#ff00ff"/><circle cx="777.47" cy="584.89" r="2.9" fill="#ff00ff"/><circle cx="797.99" cy="596.34" r="2.9" fill="#ff00ff"/><circle cx="818.52" cy="607.71" r="2.9" fill="#ff00ff"/><circle cx="839.04" cy="619.01" r="2.9" fill="#ff00ff"/><circle cx="859.57" cy="630.23" r="2.9" fill="#ff00ff"/><circle cx="880.09" cy="641.37" r="2.9" fill="#ff00ff"/><circle cx="900.62" cy="652.44" r="2.9" fill="#ff00ff"/><circle cx="921.14" cy="663.43" r="2.9" fill="#ff00ff"/><circle cx="941.67" cy="674.36" r="2.9" fill="#ff00ff"/><circle cx="962.19" cy="685.22" r="2.9" fill="#ff00ff"/><circle cx="982.72" cy="696.01" r="2.9" fill="#ff00ff"/></g>
<line x1="241.20" y1="144.70" x2="350.77" y2="120.63" stroke="#ff0000" stroke-width="1.5"/><path d="M366.40,117.20L349.93,126.14L347.70,115.98Z" fill="#ff0000"/>
<line x1="252.50" y1="134.80" x2="350.98" y2="119.81" stroke="#0000ff" stroke-width="1.5"/><path d="M366.80,117.40L349.79,125.25L348.22,114.97Z" fill="#0000ff"/>
<line x1="256.20" y1="127.70" x2="350.08" y2="118.47" stroke="#00ff00" stroke-width="1.5"/><path d="M366.00,116.90L348.60,123.84L347.58,113.49Z" fill="#00ff00"/>
<line x1="262.20" y1="117.80" x2="349.30" y2="116.62" stroke="#ff00ff" stroke-width="1.5"/><path d="M365.30,116.40L347.37,121.84L347.23,111.44Z" fill="#ff00ff"/>
<line x1="319.40" y1="207.70" x2="447.23" y2="181.24" stroke="#000" stroke-width="1.5"/><path d="M462.90,178.00L446.33,186.74L444.22,176.56Z" fill="#000"/>
<line x1="450.00" y1="315.60" x2="455.05" y2="463.01" stroke="#ff0000" stroke-width="1.5"/><path d="M455.60,479.00L449.79,461.19L460.18,460.83Z" fill="#ff0000"/>
<line x1="456.60" y1="344.90" x2="455.63" y2="463.20" stroke="#0000ff" stroke-width="1.5"/><path d="M455.50,479.20L450.45,461.16L460.85,461.24Z" fill="#0000ff"/>
<line x1="463.00" y1="374.20" x2="457.09" y2="460.54" stroke="#00ff00" stroke-width="1.5"/><path d="M456.00,476.50L452.04,458.19L462.42,458.90Z" fill="#00ff00"/>
<line x1="469.90" y1="402.20" x2="458.43" y2="459.81" stroke="#ff00ff" stroke-width="1.5"/><path d="M455.30,475.50L453.72,456.83L463.92,458.86Z" fill="#ff00ff"/>
<rect x="116.0" y="533.0" width="198.60" height="186.80" fill="#fff" stroke="#333" stroke-width="1.9"/>
<line x1="119.2" y1="605.00" x2="163.4" y2="605.00" stroke="#404040" stroke-width="1.4" stroke-linecap="round"/>
<rect x="138.70" y="602.60" width="5" height="4.8" fill="#000"/>
<text id="lr0a" x="191.30" y="611.60" style="font-size:20.5px">0</text>
<text id="lr0b" x="211.10" y="611.60" style="font-size:20.5px">:</text>
<text id="lr0c" x="237.00" y="611.60" style="font-size:20.5px">0</text>
<text id="lr0d" x="262.00" y="611.60" style="font-size:20.5px">:</text>
<text id="lr0e" x="278.20" y="611.60" style="font-size:20.5px">0</text>
<line x1="119.2" y1="630.15" x2="163.4" y2="630.15" stroke="#ff0000" stroke-width="1.4" stroke-linecap="round"/>
<circle cx="141" cy="630.15" r="2.4" fill="#ff0000"/>
<text id="lr1a" x="189.10" y="636.75" style="font-size:20.5px">0</text>
<text id="lr1b" x="208.90" y="636.75" style="font-size:20.5px">:</text>
<text id="lr1c" x="234.80" y="636.75" style="font-size:20.5px">0</text>
<text id="lr1d" x="259.80" y="636.75" style="font-size:20.5px">:</text>
<text id="lr1e" x="275.20" y="636.75" style="font-size:20.5px" textLength="24.20" lengthAdjust="spacingAndGlyphs">0.5</text>
<line x1="119.2" y1="655.30" x2="163.4" y2="655.30" stroke="#0000ff" stroke-width="1.4" stroke-linecap="round"/>
<path d="M137.80,652.60H144.20L141,658.00Z" fill="#0000ff"/>
<text id="lr2a" x="189.10" y="661.90" style="font-size:20.5px">0</text>
<text id="lr2b" x="208.90" y="661.90" style="font-size:20.5px">:</text>
<text id="lr2c" x="234.80" y="661.90" style="font-size:20.5px">0</text>
<text id="lr2d" x="259.80" y="661.90" style="font-size:20.5px">:</text>
<text id="lr2e" x="275.20" y="661.90" style="font-size:20.5px" textLength="24.20" lengthAdjust="spacingAndGlyphs">1.0</text>
<line x1="119.2" y1="680.45" x2="163.4" y2="680.45" stroke="#00ff00" stroke-width="1.4" stroke-linecap="round"/>
<path d="M143.70,677.25V683.65L138.30,680.45Z" fill="#00ff00"/>
<text id="lr3a" x="189.10" y="687.05" style="font-size:20.5px">0</text>
<text id="lr3b" x="208.90" y="687.05" style="font-size:20.5px">:</text>
<text id="lr3c" x="234.80" y="687.05" style="font-size:20.5px">0</text>
<text id="lr3d" x="259.80" y="687.05" style="font-size:20.5px">:</text>
<text id="lr3e" x="275.20" y="687.05" style="font-size:20.5px" textLength="24.20" lengthAdjust="spacingAndGlyphs">1.5</text>
<line x1="119.2" y1="705.60" x2="163.4" y2="705.60" stroke="#ff00ff" stroke-width="1.4" stroke-linecap="round"/>
<circle cx="141" cy="705.60" r="2.4" fill="#ff00ff"/>
<text id="lr4a" x="189.10" y="712.20" style="font-size:20.5px">0</text>
<text id="lr4b" x="208.90" y="712.20" style="font-size:20.5px">:</text>
<text id="lr4c" x="234.80" y="712.20" style="font-size:20.5px">0</text>
<text id="lr4d" x="259.80" y="712.20" style="font-size:20.5px">:</text>
<text id="lr4e" x="275.20" y="712.20" style="font-size:20.5px" textLength="24.20" lengthAdjust="spacingAndGlyphs">2.0</text>
<text id="ltitle" x="168.70" y="553.60" style="font-size:20.5px" textLength="142.82" lengthAdjust="spacingAndGlyphs">Differential stress</text>
<text id="lsub" x="168.75" y="580.80" style="font-size:20.5px" textLength="139.52" lengthAdjust="spacingAndGlyphs">&#916;&#963;<tspan style="font-size:12px" dy="6.9">xx</tspan><tspan dy="-6.9"> : &#916;&#963;</tspan><tspan style="font-size:12px" dy="6.9">yy</tspan><tspan dy="-6.9"> : &#916;&#963;</tspan><tspan style="font-size:12px" dy="6.9">zz</tspan></text>
<path d="M114.8,11.5H996.5V722.0H114.8Z" fill="none" stroke="#000" stroke-width="3" stroke-linejoin="round"/>
<line x1="114.8" y1="11.50" x2="100.6" y2="11.50" stroke="#000" stroke-width="2.8" stroke-linecap="round"/>
<text id="yt0" x="90.60" y="17.80" style="font-size:23.9px" text-anchor="end">4.40</text>
<line x1="114.8" y1="54.60" x2="108.2" y2="54.60" stroke="#000" stroke-width="2.8" stroke-linecap="round"/>
<line x1="114.8" y1="97.70" x2="100.6" y2="97.70" stroke="#000" stroke-width="2.8" stroke-linecap="round"/>
<text id="yt1" x="90.60" y="104.00" style="font-size:23.9px" text-anchor="end">4.38</text>
<line x1="114.8" y1="140.80" x2="108.2" y2="140.80" stroke="#000" stroke-width="2.8" stroke-linecap="round"/>
<line x1="114.8" y1="183.90" x2="100.6" y2="183.90" stroke="#000" stroke-width="2.8" stroke-linecap="round"/>
<text id="yt2" x="90.60" y="190.20" style="font-size:23.9px" text-anchor="end">4.36</text>
<line x1="114.8" y1="227.00" x2="108.2" y2="227.00" stroke="#000" stroke-width="2.8" stroke-linecap="round"/>
<line x1="114.8" y1="270.10" x2="100.6" y2="270.10" stroke="#000" stroke-width="2.8" stroke-linecap="round"/>
<text id="yt3" x="90.60" y="276.40" style="font-size:23.9px" text-anchor="end">4.34</text>
<line x1="114.8" y1="313.20" x2="108.2" y2="313.20" stroke="#000" stroke-width="2.8" stroke-linecap="round"/>
<line x1="114.8" y1="356.30" x2="100.6" y2="356.30" stroke="#000" stroke-width="2.8" stroke-linecap="round"/>
<text id="yt4" x="90.60" y="362.60" style="font-size:23.9px" text-anchor="end">4.32</text>
<line x1="114.8" y1="399.40" x2="108.2" y2="399.40" stroke="#000" stroke-width="2.8" stroke-linecap="round"/>
<line x1="114.8" y1="442.50" x2="100.6" y2="442.50" stroke="#000" stroke-width="2.8" stroke-linecap="round"/>
<text id="yt5" x="90.60" y="448.80" style="font-size:23.9px" text-anchor="end">4.30</text>
<line x1="114.8" y1="485.60" x2="108.2" y2="485.60" stroke="#000" stroke-width="2.8" stroke-linecap="round"/>
<line x1="114.8" y1="528.70" x2="100.6" y2="528.70" stroke="#000" stroke-width="2.8" stroke-linecap="round"/>
<text id="yt6" x="90.60" y="535.00" style="font-size:23.9px" text-anchor="end">4.28</text>
<line x1="114.8" y1="571.80" x2="108.2" y2="571.80" stroke="#000" stroke-width="2.8" stroke-linecap="round"/>
<line x1="114.8" y1="614.90" x2="100.6" y2="614.90" stroke="#000" stroke-width="2.8" stroke-linecap="round"/>
<text id="yt7" x="90.60" y="621.20" style="font-size:23.9px" text-anchor="end">4.26</text>
<line x1="114.8" y1="658.00" x2="108.2" y2="658.00" stroke="#000" stroke-width="2.8" stroke-linecap="round"/>
<line x1="114.8" y1="701.10" x2="100.6" y2="701.10" stroke="#000" stroke-width="2.8" stroke-linecap="round"/>
<text id="yt8" x="90.60" y="707.40" style="font-size:23.9px" text-anchor="end">4.24</text>
<line x1="134.35" y1="722.0" x2="134.35" y2="736.3" stroke="#000" stroke-width="2.8" stroke-linecap="round"/>
<text id="xt0" x="134.35" y="763.80" style="font-size:24.4px" text-anchor="middle">0</text>
<line x1="175.40" y1="722.0" x2="175.40" y2="729.0" stroke="#000" stroke-width="2.8" stroke-linecap="round"/>
<line x1="216.45" y1="722.0" x2="216.45" y2="736.3" stroke="#000" stroke-width="2.8" stroke-linecap="round"/>
<text id="xt1" x="216.45" y="763.80" style="font-size:24.4px" text-anchor="middle">2</text>
<line x1="257.50" y1="722.0" x2="257.50" y2="729.0" stroke="#000" stroke-width="2.8" stroke-linecap="round"/>
<line x1="298.55" y1="722.0" x2="298.55" y2="736.3" stroke="#000" stroke-width="2.8" stroke-linecap="round"/>
<text id="xt2" x="298.55" y="763.80" style="font-size:24.4px" text-anchor="middle">4</text>
<line x1="339.60" y1="722.0" x2="339.60" y2="729.0" stroke="#000" stroke-width="2.8" stroke-linecap="round"/>
<line x1="380.65" y1="722.0" x2="380.65" y2="736.3" stroke="#000" stroke-width="2.8" stroke-linecap="round"/>
<text id="xt3" x="380.65" y="763.80" style="font-size:24.4px" text-anchor="middle">6</text>
<line x1="421.70" y1="722.0" x2="421.70" y2="729.0" stroke="#000" stroke-width="2.8" stroke-linecap="round"/>
<line x1="462.75" y1="722.0" x2="462.75" y2="736.3" stroke="#000" stroke-width="2.8" stroke-linecap="round"/>
<text id="xt4" x="462.75" y="763.80" style="font-size:24.4px" text-anchor="middle">8</text>
<line x1="503.80" y1="722.0" x2="503.80" y2="729.0" stroke="#000" stroke-width="2.8" stroke-linecap="round"/>
<line x1="544.85" y1="722.0" x2="544.85" y2="736.3" stroke="#000" stroke-width="2.8" stroke-linecap="round"/>
<text id="xt5" x="544.85" y="763.80" style="font-size:24.4px" text-anchor="middle">10</text>
<line x1="585.90" y1="722.0" x2="585.90" y2="729.0" stroke="#000" stroke-width="2.8" stroke-linecap="round"/>
<line x1="626.95" y1="722.0" x2="626.95" y2="736.3" stroke="#000" stroke-width="2.8" stroke-linecap="round"/>
<text id="xt6" x="626.95" y="763.80" style="font-size:24.4px" text-anchor="middle">12</text>
<line x1="668.00" y1="722.0" x2="668.00" y2="729.0" stroke="#000" stroke-width="2.8" stroke-linecap="round"/>
<line x1="709.05" y1="722.0" x2="709.05" y2="736.3" stroke="#000" stroke-width="2.8" stroke-linecap="round"/>
<text id="xt7" x="709.05" y="763.80" style="font-size:24.4px" text-anchor="middle">14</text>
<line x1="750.10" y1="722.0" x2="750.10" y2="729.0" stroke="#000" stroke-width="2.8" stroke-linecap="round"/>
<line x1="791.15" y1="722.0" x2="791.15" y2="736.3" stroke="#000" stroke-width="2.8" stroke-linecap="round"/>
<text id="xt8" x="791.15" y="763.80" style="font-size:24.4px" text-anchor="middle">16</text>
<line x1="832.20" y1="722.0" x2="832.20" y2="729.0" stroke="#000" stroke-width="2.8" stroke-linecap="round"/>
<line x1="873.25" y1="722.0" x2="873.25" y2="736.3" stroke="#000" stroke-width="2.8" stroke-linecap="round"/>
<text id="xt9" x="873.25" y="763.80" style="font-size:24.4px" text-anchor="middle">18</text>
<line x1="914.30" y1="722.0" x2="914.30" y2="729.0" stroke="#000" stroke-width="2.8" stroke-linecap="round"/>
<line x1="955.35" y1="722.0" x2="955.35" y2="736.3" stroke="#000" stroke-width="2.8" stroke-linecap="round"/>
<text id="xt10" x="955.35" y="763.80" style="font-size:24.4px" text-anchor="middle">20</text>
<line x1="996.40" y1="722.0" x2="996.40" y2="729.0" stroke="#000" stroke-width="2.8" stroke-linecap="round"/>
<text id="xtitle" class="big" x="465.00" y="799.20" style="font-size:34.7px" textLength="179.77" lengthAdjust="spacingAndGlyphs">Pressure/GPa</text>
<text id="ytitle" class="big" transform="translate(30.30,470.70) rotate(-90)" x="0" y="0" style="font-size:34.7px" textLength="258.72" lengthAdjust="spacingAndGlyphs">Lattice constants/&#197;</text>
<text id="ann1" class="big" x="342.90" y="98.50" style="font-size:34.5px" textLength="214.89" lengthAdjust="spacingAndGlyphs">a axis (= b axis)</text>
<text id="ann2" class="big" x="466.00" y="194.30" style="font-size:34.5px" textLength="265.40" lengthAdjust="spacingAndGlyphs">a axis (= b = c axis)</text>
<text id="ann3" class="big" x="455.10" y="498.60" style="font-size:34.5px" textLength="77.55" lengthAdjust="spacingAndGlyphs">c axis</text>
</svg>
</body></html>
